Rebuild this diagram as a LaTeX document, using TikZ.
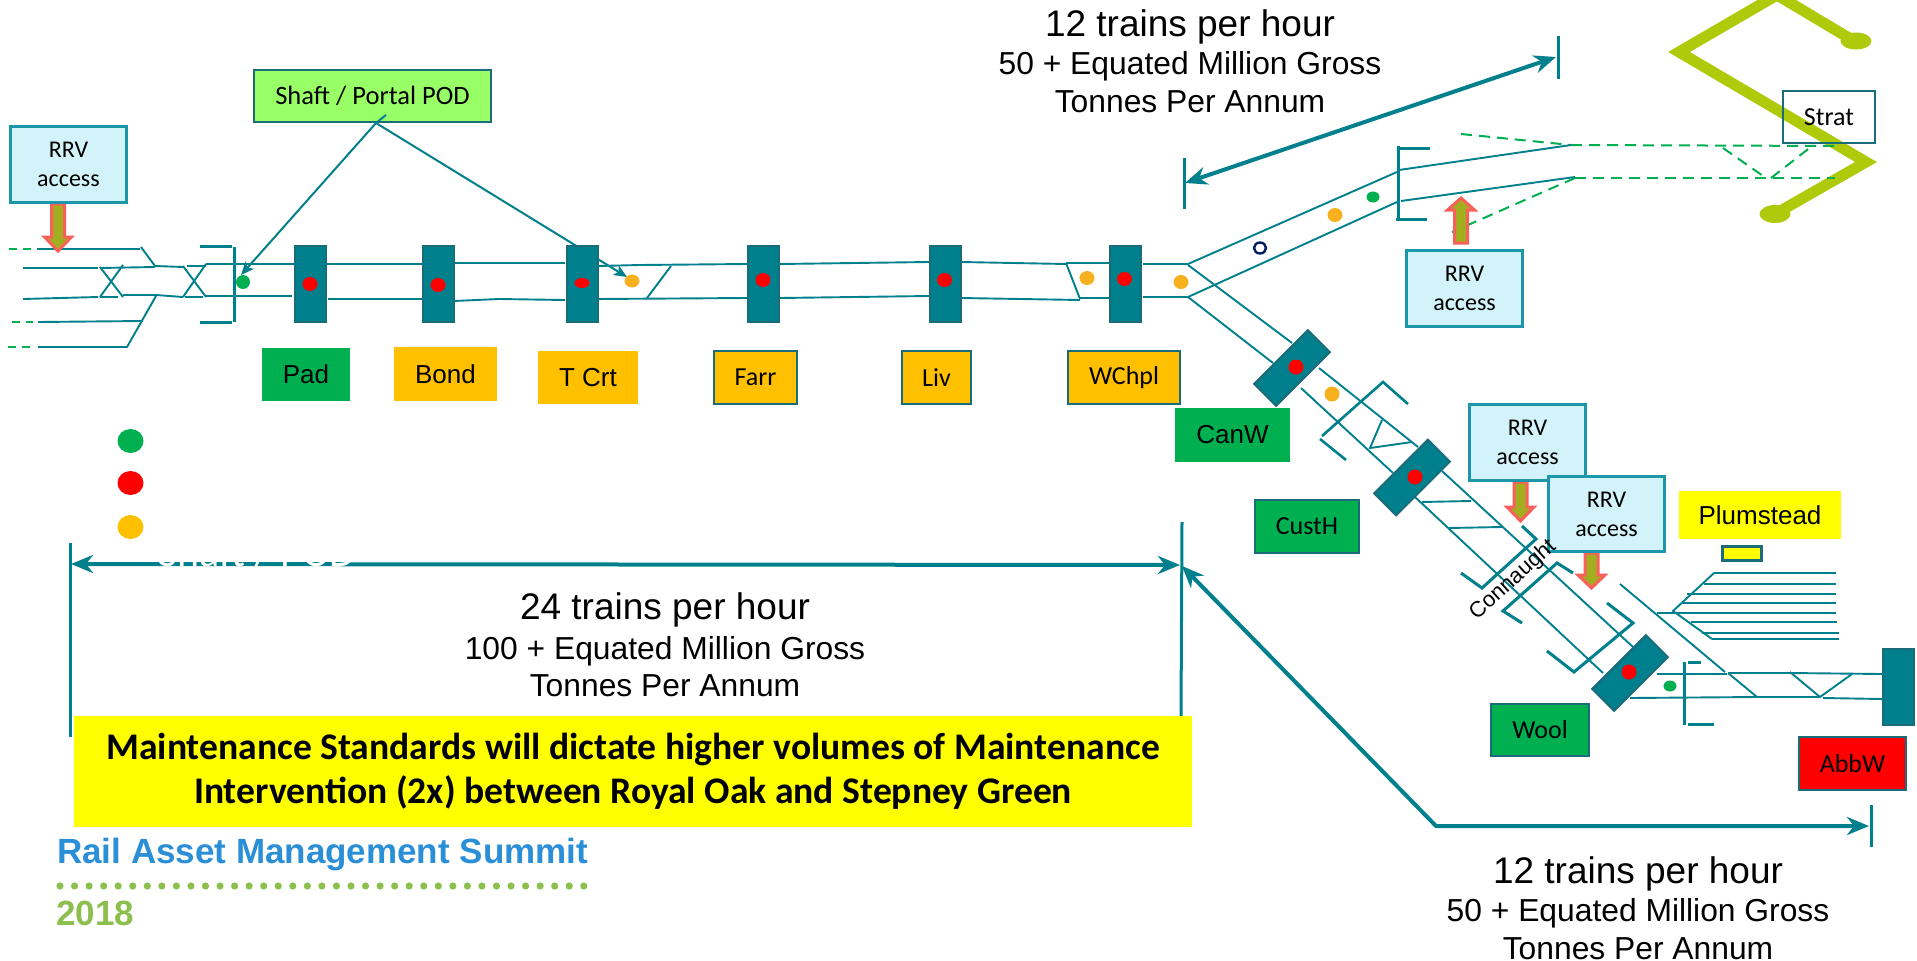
\documentclass[tikz,border=0pt]{standalone}
\usepackage{fontspec}
\setmainfont{Carlito}
\newfontfamily\arialf{Liberation Sans}
\usetikzlibrary{arrows.meta}
\definecolor{teal1}{HTML}{007F8C}
\definecolor{tealdk}{HTML}{1A6C7A}
\definecolor{rrvedge}{HTML}{1C97A9}
\definecolor{rrvfill}{HTML}{D2F3F9}
\definecolor{olivegr}{HTML}{A3AD20}
\definecolor{coral}{HTML}{F9605A}
\definecolor{limeg}{HTML}{AFCA0B}
\definecolor{green1}{HTML}{00B050}
\definecolor{amber}{HTML}{FFC000}
\definecolor{amberdot}{HTML}{F7B11E}
\definecolor{shaftg}{HTML}{99FF66}
\definecolor{logob}{HTML}{2B8FD8}
\definecolor{logog}{HTML}{8DBF4E}
\definecolor{navyring}{HTML}{002060}
\definecolor{yell}{HTML}{FFFF00}
\definecolor{redd}{HTML}{FF0000}
\tikzset{
  track/.style={draw=teal1,line width=1.9pt},
  brk/.style={draw=teal1,line width=3pt},
  dashg/.style={draw=green1,line width=2pt,dash pattern=on 11pt off 7pt},
  dashw/.style={draw=green1,line width=2pt,dash pattern=on 8pt off 6pt},
  platform/.style={draw=tealdk,line width=2pt,fill=teal1,inner sep=0pt,minimum width=31pt,minimum height=76pt},
  boxbase/.style={inner sep=0pt,align=center},
  rrv/.style={boxbase,draw=rrvedge,line width=3pt,fill=rrvfill,minimum width=116pt,minimum height=76pt,font=\fontsize{24}{29}\selectfont},
  cal/.style={boxbase,font=\fontsize{26}{26}\selectfont,draw=tealdk,line width=2.5pt},
  ari/.style={boxbase,font=\arialf\fontsize{26}{26}\selectfont},
  dimboth/.style={draw=teal1,line width=3.5pt,{Stealth[length=22pt,width=18pt,inset=7pt]}-{Stealth[length=22pt,width=18pt,inset=7pt]}},
  tick/.style={draw=teal1,line width=3pt},
  podarrow/.style={draw=teal1,line width=2pt,-{Stealth[length=13pt,width=11pt,inset=3pt]}},
  rrvarrow/.style={draw=coral,line width=3pt,fill=olivegr,line join=miter},
  trainstxt/.style={boxbase,font=\arialf,text=black},
}
\newcommand\arrdown[4]{\draw[rrvarrow] ({#1-6.5},#2) -- ({#1+6.5},#2) -- ({#1+6.5},#3) -- ({#1+13.5},#3) -- (#1,#4) -- ({#1-13.5},#3) -- ({#1-6.5},#3) -- cycle;}
\newcommand\spot[5]{\fill[#1] (#2,#3) ellipse (#4 and #5);}
\begin{document}
\begin{tikzpicture}[x=1pt,y=-1pt]
\useasboundingbox (0,0) rectangle (1917,961);
\begin{scope}
\clip (0,0) rectangle (1917,961);
% zigzag
\draw[limeg,line width=11pt,miter limit=10] (1854,41) -- (1777,-5) -- (1679,52) -- (1866,162) -- (1775,214);
\fill[limeg] (1856,41) ellipse (15.5 and 8.5);
\fill[limeg] (1775,214) ellipse (15.5 and 9);
\end{scope}
% dashed lines (NE)
\draw[dashg] (1461,134) -- (1571,145);
\draw[dashg] (1571,145) -- (1840,146);
\draw[dashg] (1575,178) -- (1835,178);
\draw[dashg] (1575,178) -- (1452,232);
\draw[dashg] (1723,148) -- (1766,178);
\draw[dashg] (1771,178) -- (1812,146);
% dashed lines (W)
\draw[dashw] (9,249) -- (32,249);
\draw[dashw] (12,322) -- (33,322);
\draw[dashw] (8,347) -- (33,347);
% western throat
\draw[track] (37,249) -- (140,249);
\draw[track] (141,247) -- (155,266) -- (183,267);
\draw[track] (23,268) -- (98,268);
\draw[track] (100,268) -- (155,267);
\draw[track] (23,299) -- (98,297);
\draw[track] (100,297) -- (118,297);
\draw[track] (123,295) -- (156,295) -- (183,297);
\draw[track] (100,267) -- (123,297);
\draw[track] (123,265) -- (100,297);
\draw[track] (183,266) -- (206,297);
\draw[track] (206,264) -- (183,297);
\draw[track] (187,266) -- (206,266);
\draw[track] (185,297) -- (203,297);
\draw[track] (38,322) -- (143,321);
\draw[track] (38,347) -- (127,347) -- (156,296);
\draw[track] (206,264) -- (294,264);
\draw[track] (206,296) -- (292,296);
\draw[brk] (234,247) -- (234,322);
\draw[brk] (200,246) -- (232,246);
\draw[brk] (200,322) -- (232,322);
% main line
\draw[track] (327,264) -- (422,264);
\draw[track] (328,299) -- (422,299);
\draw[track] (454,263) -- (522,263) -- (565,263);
\draw[track] (454,301) -- (499,299) -- (565,300);
\draw[track] (598,266) -- (640,265) -- (747,264);
\draw[track] (598,299) -- (747,298);
\draw[track] (671,266) -- (647,298);
\draw[track] (780,264) -- (929,262);
\draw[track] (780,298) -- (929,296);
\draw[track] (961,262) -- (1066,264);
\draw[track] (961,298) -- (1080,300);
\draw[track] (1066,263) -- (1109,263);
\draw[track] (1066,263) -- (1080,299);
\draw[track] (1080,298) -- (1109,298);
\draw[track] (1143,264) -- (1188,264);
\draw[track] (1143,297) -- (1188,297);
% NE branch
\draw[track] (1188,264) -- (1397,172);
\draw[track] (1188,297) -- (1397,202);
\draw[track] (1399,170) -- (1571,145);
\draw[track] (1401,201) -- (1575,177);
\draw[brk] (1398,146) -- (1398,220);
\draw[brk] (1398,148) -- (1430,148);
\draw[brk] (1396,219) -- (1427,219);
% SE branch
\draw[track] (1188,265) -- (1292,343);
\draw[track] (1188,297) -- (1273,363);
\draw[track] (1319,368) -- (1418,447);
\draw[track] (1301,388) -- (1393,473);
\draw[brk,line width=2.6pt] (1408,404) -- (1383,382) -- (1322,436);
\draw[brk,line width=2.6pt] (1320,439) -- (1346,460);
\draw[track] (1382,420) -- (1370,448) -- (1412,442);
\draw[track] (1442,471) -- (1633,647);
\draw[track] (1415,497) -- (1603,673);
\draw[track] (1422,502) -- (1471,501);
\draw[track] (1449,528) -- (1502,527);
\draw[brk] (1522,526) -- (1536,539) -- (1482,588) -- (1461,573);
\draw[brk] (1573,573) -- (1557,563) -- (1503,611) -- (1522,623);
\draw[brk] (1607,603) -- (1633,623) -- (1574,672) -- (1547,651);
% Plumstead fan
\draw[track] (1620,584) -- (1725,672);
\draw[track] (1657,613) -- (1836,613);
\draw[track] (1714,573) -- (1836,573);
\draw[track] (1704,584) -- (1836,584);
\draw[track] (1687,594) -- (1836,594);
\draw[track] (1682,603) -- (1836,603);
\draw[track] (1691,622) -- (1837,622);
\draw[track] (1702,633) -- (1839,633);
\draw[track] (1712,639) -- (1839,639);
\draw[track] (1714,573) -- (1673,611) -- (1712,639);
% Abbey Wood approach
\draw[track] (1657,674) -- (1727,674);
\draw[track] (1630,698) -- (1757,697) -- (1820,697);
\draw[track] (1728,673) -- (1757,697);
\draw[track] (1728,673) -- (1790,673) -- (1882,674);
\draw[track] (1790,672) -- (1820,697) -- (1852,674);
\draw[track] (1823,698) -- (1882,699);
\draw[brk] (1684,662) -- (1684,725);
\draw[brk] (1688,662) -- (1701,662);
\draw[brk] (1688,724) -- (1714,724);
% dimension lines
\coordinate (leftTick) at (71,564);
\coordinate (midTick) at (1180,565);
\coordinate (neLeft) at (1185,183);
\coordinate (neRight) at (1556,57);
\coordinate (seStart) at (1182,566);
\coordinate (seBend) at (1436,826);
\coordinate (seEnd) at (1869,826);
\draw[tick] (70,543) -- (70,737);
\draw[tick] (1182,522) -- (1181,716);
\draw[tick] (1184,158) -- (1184,209);
\draw[tick] (1558,36) -- (1558,79);
\draw[tick] (1871,805) -- (1871,847);
\draw[dimboth,line width=4pt] (leftTick) -- (midTick);
\draw[dimboth,line width=4pt] (neLeft) -- (neRight);
\draw[dimboth,line join=miter,line width=4pt] (seStart) -- (seBend) -- (seEnd);
% white remnant text on the long arrow
\node[anchor=base,text=white,font=\fontsize{42}{42}\selectfont,inner sep=0pt] (shaftghost) at (257,566) {Shaft / POD};
% POD connectors
\node[boxbase,draw=tealdk,line width=2.5pt,fill=shaftg,minimum width=237pt,minimum height=52pt,font=\fontsize{26.5}{26.5}\selectfont] (shaft) at (372.5,96) {Shaft / Portal POD};
\coordinate (podjoin) at (376,123);
\coordinate (podstub) at (386,115);
\coordinate (podA) at (241,275);
\coordinate (podB) at (627,277);
\draw[draw=teal1,line width=2pt] (podstub) -- (podjoin);
\draw[podarrow] (podjoin) -- (podA);
\draw[podarrow] (podjoin) -- (podB);
% platforms
\node[platform] (pPad) at (310,284) {};
\node[platform] (pBond) at (438,284) {};
\node[platform] (pTcrt) at (582,284) {};
\node[platform] (pFarr) at (763.5,284) {};
\node[platform] (pLiv) at (945,284) {};
\node[platform] (pWch) at (1125,284) {};
\node[platform,rotate=-45] (pCan) at (1292,368) {};
\node[platform,rotate=-45] (pCust) at (1412,477.5) {};
\node[platform,rotate=-45] (pWool) at (1630,673) {};
\node[platform] (pAbb) at (1898,686.5) {};
% dots
\spot{green1}{243}{282}{7}{7}
\spot{redd}{310}{284}{7.5}{7}
\spot{redd}{438}{285}{7.5}{7}
\spot{redd}{582}{283}{7.5}{5}
\spot{amberdot}{632}{281}{7.5}{6.5}
\spot{redd}{763}{280}{7.5}{7}
\spot{redd}{944.5}{280}{7.5}{7}
\spot{amberdot}{1087}{278}{7.5}{7}
\spot{redd}{1124.5}{279}{7.5}{7}
\spot{amberdot}{1181}{282}{7.5}{7}
\draw[draw=navyring,line width=2.4pt] (1260,248) ellipse (6 and 5.5);
\spot{amberdot}{1335}{215}{7.5}{7}
\spot{green1}{1373}{197}{6.5}{5.5}
\spot{redd}{1296}{367}{7.5}{7.5}
\spot{amberdot}{1332}{394}{7.5}{7.5}
\spot{redd}{1415}{477}{7.5}{7.5}
\spot{redd}{1629}{672}{7.5}{7.5}
\spot{green1}{1670}{686}{6.5}{5.5}
\spot{green1}{130.5}{441}{13}{12}
\spot{redd}{130.5}{483}{13}{12}
\spot{amber}{130.5}{527}{13}{12}
% station labels
\node[ari,fill=green1,minimum width=88pt,minimum height=53pt] (Pad) at (306,374.5) {Pad};
\node[ari,fill=amber,minimum width=103pt,minimum height=54pt] (Bond) at (445.5,374) {Bond};
\node[ari,fill=amber,minimum width=100pt,minimum height=53pt] (TCrt) at (588,377.5) {T Crt};
\node[cal,fill=amber,minimum width=83pt,minimum height=53pt] (Farr) at (755.5,377.5) {Farr};
\node[cal,fill=amber,minimum width=69pt,minimum height=53pt] (Liv) at (936.5,377.5) {Liv};
\node[cal,fill=amber,minimum width=112pt,minimum height=53pt] (WChpl) at (1124,377.5) {WChpl};
\node[ari,fill=green1,minimum width=115pt,minimum height=54pt] (CanW) at (1232.5,435) {CanW};
\node[cal,fill=green1,minimum width=104pt,minimum height=53pt] (CustH) at (1307,526.5) {CustH};
\node[cal,fill=green1,minimum width=98pt,minimum height=52pt] (Wool) at (1540,730) {Wool};
\node[cal,fill=redd,minimum width=107pt,minimum height=53pt] (AbbW) at (1852.5,763.5) {AbbW};
\node[cal,minimum width=92pt,minimum height=52pt] (Strat) at (1829,117) {Strat};
\node[ari,fill=yell,minimum width=162pt,minimum height=48pt] (Plumstead) at (1760,515) {Plumstead};
\node[boxbase,draw=tealdk,line width=3pt,fill=yell,minimum width=39pt,minimum height=14pt] (plumbox) at (1742,553) {};
% RRV access
\arrdown{58}{204}{237}{251}
\node[rrv] (rrvA) at (68.5,164.5) {RRV\\access};
\arrdown{1461}{243}{210}{198}
\node[rrv] (rrvB) at (1464.5,288) {RRV\\access};
\arrdown{1520.5}{482}{507}{521}
\node[rrv] (rrvC) at (1527.5,442.5) {RRV\\access};
\arrdown{1591.5}{553}{575}{588}
\node[rrv,minimum height=75pt] (rrvD) at (1606.5,514) {RRV\\access};
\node[rotate=42,font=\arialf\fontsize{22}{22}\selectfont,inner sep=0pt] (conn) at (1513,580) {Connaught};
% tonnage captions
\node[trainstxt] (capNE) at (1190,61) {\fontsize{37}{40}\selectfont 12 trains per hour\\[6.5pt]\fontsize{31.8}{38}\selectfont 50 + Equated Million Gross\\[8pt]\fontsize{31.8}{38}\selectfont Tonnes Per Annum};
\node[trainstxt] (capW) at (665,645) {\fontsize{37}{40}\selectfont 24 trains per hour\\[7.5pt]\fontsize{31.8}{38}\selectfont 100 + Equated Million Gross\\[8pt]\fontsize{31.8}{38}\selectfont Tonnes Per Annum};
\node[trainstxt] (capSE) at (1638,908) {\fontsize{37}{40}\selectfont 12 trains per hour\\[6.5pt]\fontsize{31.8}{38}\selectfont 50 + Equated Million Gross\\[8pt]\fontsize{31.8}{38}\selectfont Tonnes Per Annum};
% banner
\node[boxbase,fill=yell,minimum width=1118pt,minimum height=111pt,font=\bfseries\fontsize{37.6}{44}\selectfont] (banner) at (633,771.5) {Maintenance Standards will dictate higher volumes of Maintenance\\Intervention (2x) between Royal Oak and Stepney Green};
% logo
\node[anchor=west,inner sep=0pt,text=logob,font=\arialf\bfseries\fontsize{35}{35}\selectfont] (logo) at (57,855) {Rail Asset Management Summit};
\foreach \k in {0,...,36} {\fill[logog] ({60+\k*14.55},886) circle (3.6);}
\node[anchor=west,inner sep=0pt,text=logog,font=\arialf\bfseries\fontsize{35}{35}\selectfont] (logoyear) at (56,913) {2018};
\end{tikzpicture}
\end{document}
